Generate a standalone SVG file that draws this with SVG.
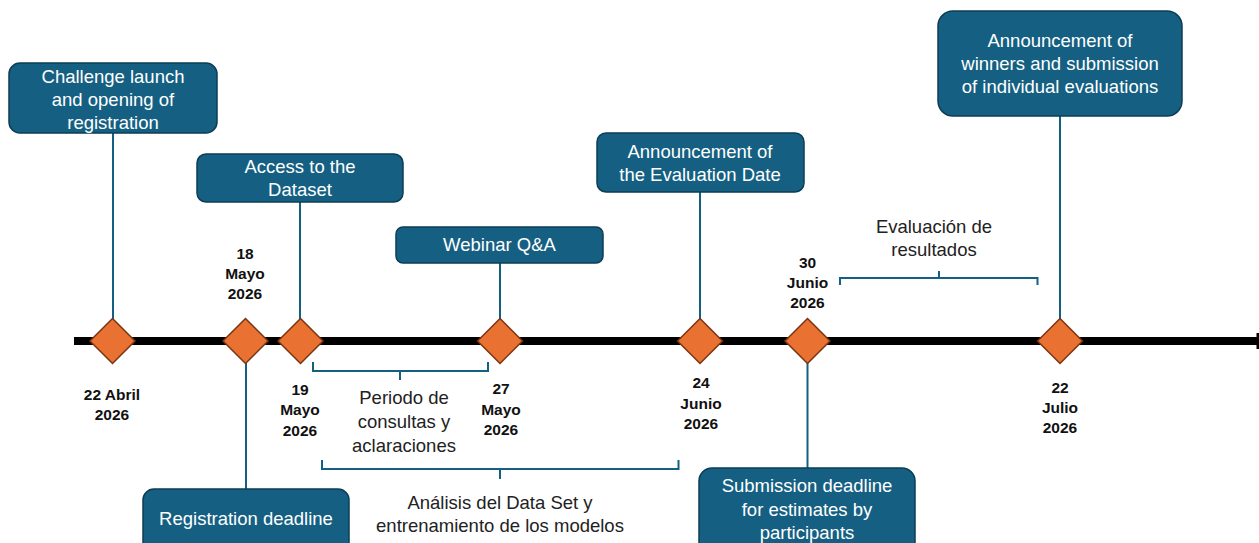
<svg xmlns="http://www.w3.org/2000/svg" width="1259" height="543" viewBox="0 0 1259 543">
<style>
.box{fill:#156082;stroke:#0d3d54;stroke-width:1.5}
.bt{font-family:"Liberation Sans",Arial,sans-serif;font-size:18.5px;fill:#ffffff;text-anchor:middle}
.dt{font-family:"Liberation Sans",Arial,sans-serif;font-size:15.5px;font-weight:bold;fill:#111111;text-anchor:middle}
.lt{font-family:"Liberation Sans",Arial,sans-serif;font-size:18.5px;fill:#222222;text-anchor:middle}
.conn{stroke:#156082;stroke-width:2;fill:none}
.br{stroke:#156082;stroke-width:2;fill:none}
.dia{fill:#E97132;stroke:#7a3510;stroke-width:1.5}
</style>
<rect width="1259" height="543" fill="#ffffff"/>
<g id="timeline">
<line x1="74" y1="341" x2="1258" y2="341" stroke="#000000" stroke-width="8"/>
<rect x="1256.5" y="333" width="2.5" height="16" fill="#000000"/>
</g>
<g id="connectors">
<line class="conn" x1="113" y1="133" x2="113" y2="319"/>
<line class="conn" x1="300" y1="202" x2="300" y2="319"/>
<line class="conn" x1="500" y1="263" x2="500" y2="319"/>
<line class="conn" x1="700" y1="192" x2="700" y2="319"/>
<line class="conn" x1="1060" y1="116" x2="1060" y2="319"/>
<line class="conn" x1="246" y1="363" x2="246" y2="489"/>
<line class="conn" x1="807.5" y1="363" x2="807.5" y2="468"/>
</g>
<g id="brackets">
<path class="br" d="M313 362 V371 H488 V362 M400 371 V380"/>
<path class="br" d="M322 460 V469 H678.5 V460 M500 469 V479"/>
<path class="br" d="M840 285 V278 H1037.5 V285 M939 278 V271"/>
</g>
<g id="diamonds">
<path class="dia" d="M112.5 318.5 L135 341 L112.5 363.5 L90 341 Z"/>
<path class="dia" d="M245.5 318.5 L268 341 L245.5 363.5 L223 341 Z"/>
<path class="dia" d="M300.5 318.5 L323 341 L300.5 363.5 L278 341 Z"/>
<path class="dia" d="M500 318.5 L522.5 341 L500 363.5 L477.5 341 Z"/>
<path class="dia" d="M700 318.5 L722.5 341 L700 363.5 L677.5 341 Z"/>
<path class="dia" d="M807.5 318.5 L830 341 L807.5 363.5 L785 341 Z"/>
<path class="dia" d="M1060 318.5 L1082.5 341 L1060 363.5 L1037.5 341 Z"/>
</g>
<g id="node-challenge">
<rect class="box" x="9" y="63" width="208" height="70" rx="11"/>
<text class="bt" x="113" y="83">Challenge launch</text>
<text class="bt" x="113" y="106">and opening of</text>
<text class="bt" x="113" y="129">registration</text>
</g>
<g id="node-access">
<rect class="box" x="197" y="154" width="206" height="48" rx="9"/>
<text class="bt" x="300" y="173">Access to the</text>
<text class="bt" x="300" y="196">Dataset</text>
</g>
<g id="node-webinar">
<rect class="box" x="396" y="227" width="207" height="36" rx="7"/>
<text class="bt" x="499.5" y="251">Webinar Q&amp;A</text>
</g>
<g id="node-evaldate">
<rect class="box" x="597" y="133" width="207" height="59" rx="9"/>
<text class="bt" x="700" y="158">Announcement of</text>
<text class="bt" x="700" y="181">the Evaluation Date</text>
</g>
<g id="node-winners">
<rect class="box" x="938" y="11" width="244" height="105" rx="15"/>
<text class="bt" x="1060" y="47">Announcement of</text>
<text class="bt" x="1060" y="70">winners and submission</text>
<text class="bt" x="1060" y="93">of individual evaluations</text>
</g>
<g id="node-registration">
<rect class="box" x="143" y="489" width="206" height="70" rx="11"/>
<text class="bt" x="246" y="525">Registration deadline</text>
</g>
<g id="node-submission">
<rect class="box" x="699" y="468" width="216" height="90" rx="13"/>
<text class="bt" x="807" y="492">Submission deadline</text>
<text class="bt" x="807" y="516">for estimates by</text>
<text class="bt" x="807" y="539">participants</text>
</g>
<g id="dates">
<text class="dt" x="112" y="400">22 Abril</text>
<text class="dt" x="112" y="420">2026</text>
<text class="dt" x="245" y="259">18</text>
<text class="dt" x="245" y="279">Mayo</text>
<text class="dt" x="245" y="299">2026</text>
<text class="dt" x="300" y="395">19</text>
<text class="dt" x="300" y="415">Mayo</text>
<text class="dt" x="300" y="436">2026</text>
<text class="dt" x="501" y="394">27</text>
<text class="dt" x="501" y="415">Mayo</text>
<text class="dt" x="501" y="435">2026</text>
<text class="dt" x="701" y="388">24</text>
<text class="dt" x="701" y="409">Junio</text>
<text class="dt" x="701" y="429">2026</text>
<text class="dt" x="807.5" y="268">30</text>
<text class="dt" x="807.5" y="288">Junio</text>
<text class="dt" x="807.5" y="308">2026</text>
<text class="dt" x="1060" y="393">22</text>
<text class="dt" x="1060" y="413">Julio</text>
<text class="dt" x="1060" y="433">2026</text>
</g>
<g id="periods">
<text class="lt" x="404" y="404">Periodo de</text>
<text class="lt" x="404" y="428">consultas y</text>
<text class="lt" x="404" y="452">aclaraciones</text>
<text class="lt" x="500" y="509">Análisis del Data Set y</text>
<text class="lt" x="500" y="532">entrenamiento de los modelos</text>
<text class="lt" x="934" y="233">Evaluación de</text>
<text class="lt" x="934" y="256">resultados</text>
</g>
</svg>
